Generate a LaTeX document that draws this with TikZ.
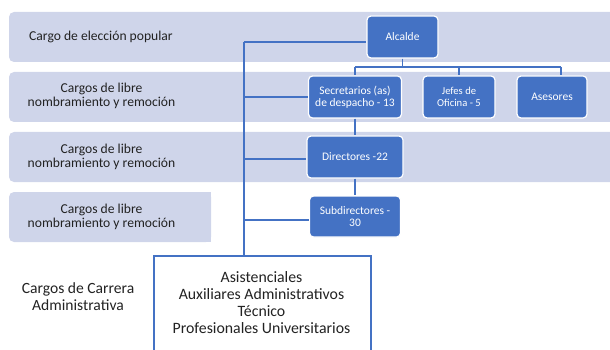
\documentclass[tikz,border=0pt]{standalone}
\usepackage{fontspec}
\setmainfont{Carlito}
\definecolor{bandc}{HTML}{CFD5EA}
\definecolor{boxc}{HTML}{4472C4}
\definecolor{txtc}{HTML}{222222}
\begin{document}
\begin{tikzpicture}[x=1pt,y=-1pt,
  band/.style={fill=bandc, rounded corners=5pt, inner sep=0pt, outer sep=0pt, anchor=north west},
  orgbox/.style={draw=white, line width=1.2pt, fill=boxc, rounded corners=4pt, text=white, align=center, inner sep=0pt, font=\fontsize{11.5}{12}\selectfont},
  lbl/.style={text=txtc, align=center, inner sep=0pt, font=\fontsize{13.6}{14}\selectfont},
  biglbl/.style={text=txtc, align=center, inner sep=0pt, font=\fontsize{15.8}{17}\selectfont},
  conn/.style={draw=boxc, line width=1.8pt}]
\useasboundingbox (0,0) rectangle (610,350);
\clip (0,0) rectangle (610,350);
% bands
\node[band, minimum width=620pt, minimum height=50pt] (b1) at (9,12) {};
\node[band, minimum width=620pt, minimum height=50pt] (b2) at (9,72) {};
\node[band, minimum width=620pt, minimum height=50pt] (b3) at (9,132) {};
\node[band, minimum width=202pt, minimum height=50pt] (b4) at (9,192) {};
\fill[bandc] (200,192) rectangle (211,242);
% band labels
\node[lbl, anchor=west] (l1) at (29,37) {Cargo de elección popular};
\node[lbl] (l2) at (101.5,96) {Cargos de libre\\nombramiento y remoción};
\node[lbl] (l3) at (101.5,156.5) {Cargos de libre\\nombramiento y remoción};
\node[lbl] (l4) at (101.5,217) {Cargos de libre\\nombramiento y remoción};
\node[biglbl, font=\fontsize{15.6}{17}\selectfont] (l5) at (78,296.5) {Cargos de Carrera\\Administrativa};
% org boxes
\node[orgbox, minimum width=71pt, minimum height=42pt] (alc) at (402.5,37) {Alcalde};
\node[orgbox, minimum width=93pt, minimum height=42pt] (sec) at (355,97) {Secretarios (as)\\de despacho - 13};
\node[orgbox, minimum width=72pt, minimum height=42pt, font=\fontsize{10.6}{11.5}\selectfont] (jef) at (459,97) {Jefes de\\Oficina - 5};
\node[orgbox, minimum width=70pt, minimum height=42pt] (ase) at (552,97) {Asesores};
\node[orgbox, minimum width=96pt, minimum height=42pt] (dir) at (355,157) {Directores -22};
\node[orgbox, minimum width=91pt, minimum height=41pt] (sub) at (355,216.5) {Subdirectores -\\30};
\node[draw=boxc, line width=1.5pt, fill=white, minimum width=217pt, minimum height=110pt, anchor=north west, inner sep=0pt] (car) at (153,255) {};
\node[biglbl] (cartxt) at (261.5,302.5) {Asistenciales\\Auxiliares Administrativos\\Técnico\\Profesionales Universitarios};
% connectors
\coordinate (t0) at (244,42);
\coordinate (t1) at (244,97);
\coordinate (t2) at (244,159);
\coordinate (t3) at (244,220);
\coordinate (bl) at (355,67);
\coordinate (br) at (561,67);
\draw[conn] (t0) -- (car.north -| t0);
\draw[conn] (t0) -- (t0 -| alc.west);
\draw[conn] (t1) -- (t1 -| sec.west);
\draw[conn] (t2) -- (t2 -| dir.west);
\draw[conn] (t3) -- (t3 -| sub.west);
\draw[conn] (alc.south) -- (alc.south |- bl);
\draw[conn] (bl) -- (br);
\draw[conn] (bl) -- (sec.north);
\draw[conn] (jef.north |- bl) -- (jef.north);
\draw[conn] (br) -- (br |- ase.north);
\draw[conn] (sec.south) -- (dir.north);
\draw[conn] (dir.south) -- (sub.north);
\end{tikzpicture}
\end{document}
